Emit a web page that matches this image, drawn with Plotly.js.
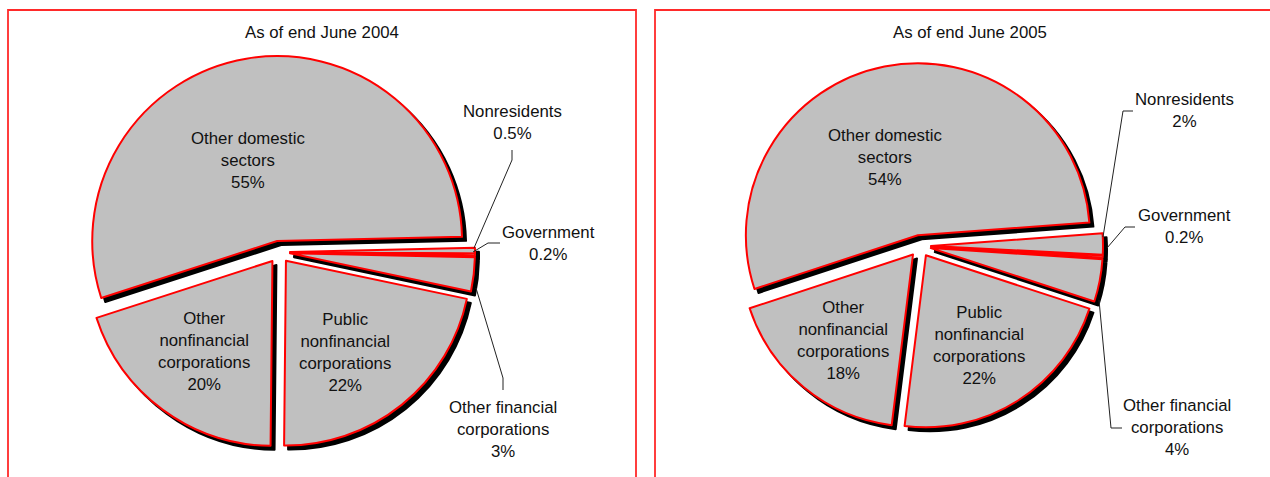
<!DOCTYPE html>
<html><head><meta charset="utf-8">
<script src="https://cdn.plot.ly/plotly-3.0.1.min.js"></script>
<style>html,body{margin:0;padding:0;background:#fff}#chart{width:1270px;height:477px}</style>
</head><body><div id="chart"></div><script>
// ---- data ----
const categories = ["Nonresidents", "Government", "Other financial corporations",
  "Public nonfinancial corporations", "Other nonfinancial corporations", "Other domestic sectors"];
const labelLines = ["Nonresidents", "Government", "Other financial<br>corporations",
  "Public<br>nonfinancial<br>corporations", "Other<br>nonfinancial<br>corporations", "Other domestic<br>sectors"];
const values2004 = [0.5, 0.2, 3, 22, 20, 55];
const values2005 = [2, 0.2, 4, 22, 18, 54];
const titles = ["As of end June 2004", "As of end June 2005"];

// ---- layout helpers (pixel -> paper) ----
const W = 1270, H = 477;
const px = x => x / W;
const py = y => 1 - y / H;
const FONT = "Liberation Sans, Arial, sans-serif";
const FS = 16.8;

function pieDomain(cx, cy, half, dx, dy) {
  return { x: [px(cx - half + dx), px(cx + half + dx)], y: [py(cy + half + dy), py(cy - half + dy)] };
}

const panels = [
  { values: values2004, cx: 279, cy: 252, half: 196, rotation: 88.7, pull: 0.06,
    title: [322, 33],
    labelPos: [[512, 123], [548, 243], [503, 429], [345, 352], [204, 351], [248, 160]],
    leaders: [
      [[512, 150], [512, 160], [474, 248]],
      [[500, 243], [488, 243], [473, 252]],
      [[503, 390], [503, 378], [476, 288]]
    ] },
  { values: values2005, cx: 920, cy: 246, half: 183, rotation: 85.8, pull: 0.064,
    title: [970, 33],
    labelPos: [[1184, 111], [1184, 227], [1177, 427], [979, 345], [843, 340], [885, 157]],
    leaders: [
      [[1133, 111], [1123, 111], [1103, 237]],
      [[1135, 227], [1125, 227], [1107, 248]],
      [[1122, 428], [1111, 428], [1099, 300]]
    ] }
];

const traces = [];
const annotations = [];
const shapes = [
  { type: "rect", xref: "paper", yref: "paper", x0: px(8), x1: px(636), y0: py(495), y1: py(10),
    line: { color: "#ff2a2a", width: 1.8 }, fillcolor: "rgba(0,0,0,0)", layer: "below" },
  { type: "rect", xref: "paper", yref: "paper", x0: px(655), x1: px(1290), y0: py(495), y1: py(10),
    line: { color: "#ff2a2a", width: 1.8 }, fillcolor: "rgba(0,0,0,0)", layer: "below" }
];

panels.forEach((p, k) => {
  const pulls = p.values.map(() => p.pull);
  // shadow
  traces.push({
    type: "pie", labels: categories, values: p.values, sort: false, direction: "clockwise",
    rotation: p.rotation, pull: pulls, textinfo: "none", hoverinfo: "skip",
    domain: pieDomain(p.cx, p.cy, p.half, 4, 4),
    marker: { colors: p.values.map(() => "#000000"), line: { color: "#000000", width: 2 } }
  });
  // main pie
  traces.push({
    type: "pie", labels: categories, values: p.values, sort: false, direction: "clockwise",
    rotation: p.rotation, pull: pulls, textinfo: "none", hoverinfo: "skip",
    domain: pieDomain(p.cx, p.cy, p.half, 0, 0),
    marker: { colors: p.values.map(() => "#c0c0c0"), line: { color: "#ff0000", width: 2 } }
  });
  annotations.push({
    xref: "paper", yref: "paper", x: px(p.title[0]), y: py(p.title[1]), xanchor: "center", yanchor: "middle",
    text: titles[k], showarrow: false, font: { family: FONT, size: FS, color: "#111" }
  });
  p.values.forEach((v, i) => {
    annotations.push({
      xref: "paper", yref: "paper", x: px(p.labelPos[i][0]), y: py(p.labelPos[i][1]),
      xanchor: "center", yanchor: "middle", align: "center",
      text: labelLines[i] + "<br>" + v + "%", showarrow: false,
      font: { family: FONT, size: FS, color: "#111" }
    });
  });
  p.leaders.forEach(pts => {
    const d = pts.map((q, j) => (j ? "L" : "M") + px(q[0]) + "," + py(q[1])).join(" ");
    shapes.push({ type: "path", xref: "paper", yref: "paper", path: d, line: { color: "#222", width: 1 } });
  });
});

const layout = {
  width: W, height: H, margin: { l: 0, r: 0, t: 0, b: 0 },
  paper_bgcolor: "#ffffff", plot_bgcolor: "#ffffff", showlegend: false,
  annotations: annotations, shapes: shapes
};
Plotly.newPlot("chart", traces, layout, { staticPlot: true, displayModeBar: false });
</script></body></html>
